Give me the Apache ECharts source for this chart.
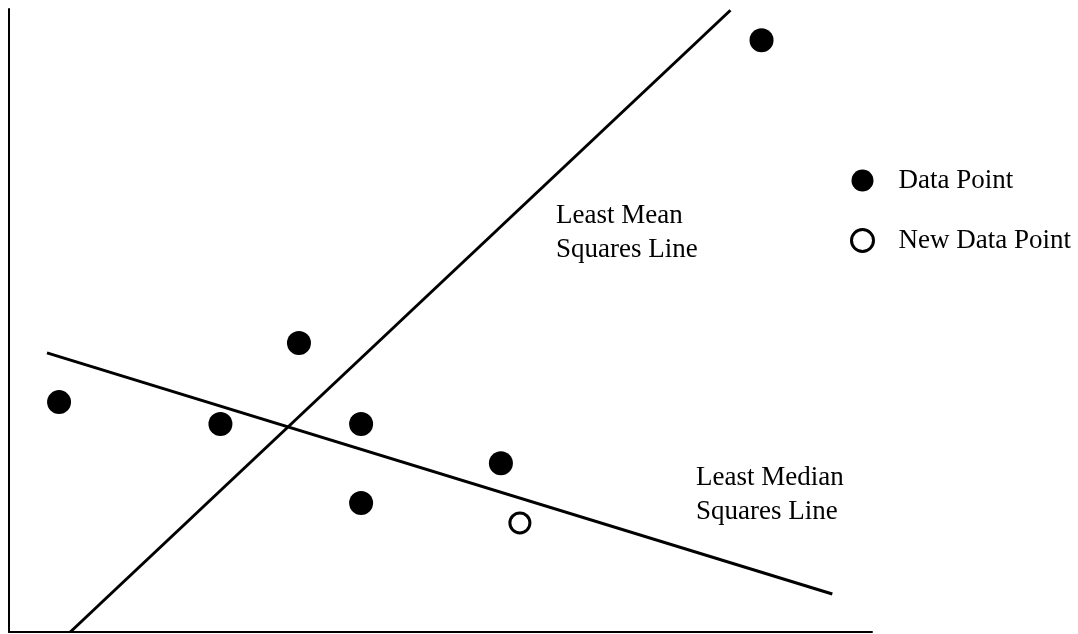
<!DOCTYPE html>
<html>
<head>
<meta charset="utf-8">
<script src="https://cdn.jsdelivr.net/npm/echarts@6/dist/echarts.min.js"></script>
<style>html,body{margin:0;padding:0;background:#fff;}#c{width:1078px;height:634px;}</style>
</head>
<body>
<div id="c"></div>
<script>
// Data (arbitrary units, x 0..10, y 0..10)
const dataPoints = [
  [8.72, 9.50],
  [3.36, 4.64],
  [0.58, 3.69],
  [2.45, 3.34],
  [4.08, 3.34],
  [5.70, 2.71],
  [4.08, 2.07]
];
const newDataPoints = [
  [5.92, 1.75]
];
const leastMeanLine = [[0.71, 0.0], [8.36, 9.98]];
const leastMedianLine = [[0.44, 4.48], [9.54, 0.61]];
const seriesNames = ['Data Point', 'New Data Point'];
const lineLabels = ['Least Mean\nSquares Line', 'Least Median\nSquares Line'];

const FONT = '"Liberation Serif", "Times New Roman", serif';
const chart = echarts.init(document.getElementById('c'));
chart.setOption({
  backgroundColor: '#fff',
  animation: false,
  grid: { left: 9, right: 206, top: 9, bottom: 2 },
  xAxis: {
    type: 'value', min: 0, max: 10,
    axisLine: { show: true, onZero: false, lineStyle: { color: '#000', width: 2 } },
    axisTick: { show: false }, axisLabel: { show: false }, splitLine: { show: false }
  },
  yAxis: {
    type: 'value', min: 0, max: 10,
    axisLine: { show: true, onZero: false, lineStyle: { color: '#000', width: 2 } },
    axisTick: { show: false }, axisLabel: { show: false }, splitLine: { show: false }
  },
  legend: {
    orient: 'vertical',
    left: 845, top: 162,
    itemWidth: 62, itemHeight: 22, itemGap: 33,
    textStyle: { fontFamily: FONT, fontSize: 27, color: '#000' },
    data: [
      { name: seriesNames[0], icon: 'circle' },
      { name: seriesNames[1], icon: 'circle', itemStyle: { color: '#fff', borderColor: '#000', borderWidth: 3 } }
    ]
  },
  graphic: [
    { type: 'text', left: 556, top: 199, style: { text: lineLabels[0], font: '27px ' + FONT, fill: '#000', lineHeight: 34 } },
    { type: 'text', left: 696, top: 461, style: { text: lineLabels[1], font: '27px ' + FONT, fill: '#000', lineHeight: 34 } }
  ],
  series: [
    {
      name: 'Least Mean Squares Line', type: 'line', data: leastMeanLine,
      symbol: 'none', lineStyle: { color: '#000', width: 3 }, silent: true, z: 1
    },
    {
      name: 'Least Median Squares Line', type: 'line', data: leastMedianLine,
      symbol: 'none', lineStyle: { color: '#000', width: 3 }, silent: true, z: 1
    },
    {
      name: seriesNames[0], type: 'scatter', data: dataPoints,
      symbol: 'circle', symbolSize: 24,
      itemStyle: { color: '#000', opacity: 1 }, z: 3
    },
    {
      name: seriesNames[1], type: 'scatter', data: newDataPoints,
      symbol: 'circle', symbolSize: 20,
      itemStyle: { color: '#fff', borderColor: '#000', borderWidth: 3, opacity: 1 }, z: 3
    }
  ]
});
</script>
</body>
</html>
